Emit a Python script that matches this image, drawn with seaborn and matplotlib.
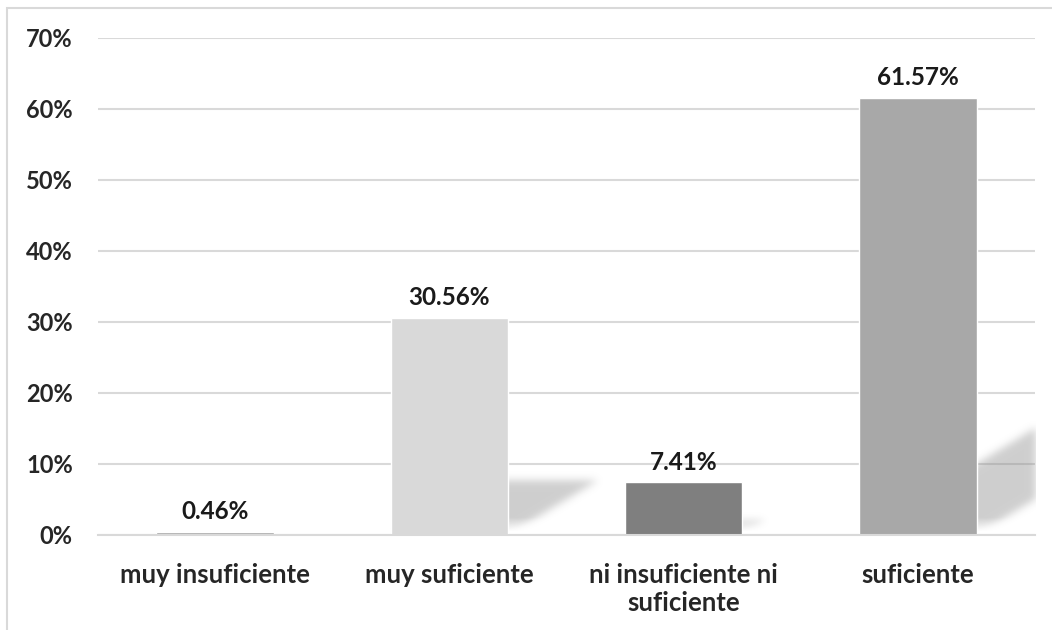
import matplotlib.pyplot as plt
import numpy as np
import pandas as pd
import seaborn as sns
from matplotlib.patches import Rectangle

categories = ["muy insuficiente", "muy suficiente", "ni insuficiente ni\nsuficiente", "suficiente"]
values = [0.0046, 0.3056, 0.0741, 0.6157]
bar_colors = ["#a6a6a6", "#d9d9d9", "#7f7f7f", "#a8a8a8"]
y_ticks = [0.0, 0.1, 0.2, 0.3, 0.4, 0.5, 0.6, 0.7]

BAR_WIDTH = 0.5
SHADOW_RISE = 0.25    # shadow height as share of bar height
SHADOW_SKEW = 5.0     # x shift (categories) per unit of shadow rise
Y_MAX = 0.7


def gaussian_kernel(sigma: float) -> np.ndarray:
    r = int(3 * sigma)
    k = np.exp(-0.5 * (np.arange(-r, r + 1) / sigma) ** 2)
    return k / k.sum()


def shadow_image(n_cols: int, n_rows: int) -> np.ndarray:
    # blurred skewed copy of every bar, as an RGBA raster over the axes
    xs = np.linspace(-0.5, len(categories) - 0.5, n_cols)
    ys = np.linspace(0, Y_MAX, n_rows)
    gx, gy = np.meshgrid(xs, ys)
    mask = np.zeros_like(gx)
    for i, v in enumerate(values):
        if v < 0.02:
            continue
        rise = SHADOW_RISE * v
        left = i - BAR_WIDTH / 2 + SHADOW_SKEW * gy
        right = i + BAR_WIDTH / 2 + SHADOW_SKEW * gy
        inside = (gy <= rise) & (gx >= left) & (gx <= right)
        mask = np.maximum(mask, inside.astype(float))

    k = gaussian_kernel(4.0)
    mask = np.apply_along_axis(lambda r: np.convolve(r, k, mode="same"), 1, mask)
    mask = np.apply_along_axis(lambda c: np.convolve(c, k, mode="same"), 0, mask)
    fade = np.clip((gy - 0.004) / 0.02, 0, 1)
    alpha = mask * fade * 0.42

    img = np.zeros((n_rows, n_cols, 4))
    img[..., :3] = 0.55
    img[..., 3] = alpha
    return img


def main() -> None:
    df = pd.DataFrame({"category": categories, "value": values})

    sns.set_theme(style="white")
    plt.rcParams["font.family"] = ["Lato", "DejaVu Sans"]

    fig = plt.figure(figsize=(10.52, 6.3), dpi=100)
    ax = fig.add_axes([0.093, 0.151, 0.891, 0.789])

    sns.barplot(
        data=df,
        x="category",
        y="value",
        hue="category",
        palette=dict(zip(categories, bar_colors)),
        width=BAR_WIDTH,
        legend=False,
        zorder=2,
        ax=ax,
    )

    ax.imshow(shadow_image(940, 500), extent=(-0.5, len(categories) - 0.5, 0, Y_MAX),
              origin="lower", aspect="auto", interpolation="bilinear", zorder=0.7)

    ax.set_ylim(0, Y_MAX)
    ax.set_yticks(y_ticks)
    ax.set_yticklabels([f"{int(round(t * 100))}%" for t in y_ticks], fontsize=17, fontweight="bold")
    ax.set_xlim(-0.5, len(categories) - 0.5)
    ax.tick_params(axis="x", labelsize=18.5, pad=20, length=0)
    ax.tick_params(axis="y", pad=18, length=0)
    for lbl in ax.get_xticklabels():
        lbl.set_fontweight("bold")
        lbl.set_linespacing(1.2)

    ax.yaxis.grid(True, color="#d9d9d9", linewidth=1.5)
    ax.set_axisbelow(True)
    for side in ["top", "right", "left"]:
        ax.spines[side].set_visible(False)
    ax.spines["bottom"].set_color("#d9d9d9")
    ax.spines["bottom"].set_linewidth(1.5)
    ax.spines["bottom"].set_zorder(3)
    ax.set_xlabel("")
    ax.set_ylabel("")

    for i, v in enumerate(values):
        ax.text(i, v + 0.012, f"{v * 100:.2f}%", ha="center", va="bottom",
                fontsize=17.5, fontweight="bold", color="#1a1a1a", zorder=4)

    # chart area border
    fig.patches.append(Rectangle((0.0067, -0.01), 1.2, 0.997, transform=fig.transFigure,
                                 fill=False, edgecolor="#d9d9d9", linewidth=1.5))

    fig.savefig("out.png", dpi=100)
    plt.close(fig)


if __name__ == "__main__":
    main()
